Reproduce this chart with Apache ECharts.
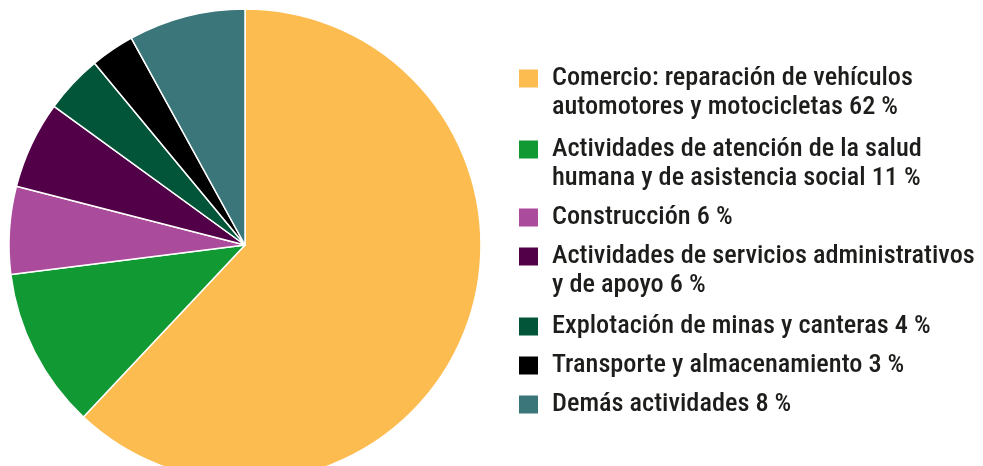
<!DOCTYPE html>
<html>
<head>
<meta charset="utf-8">
<script src="https://cdn.jsdelivr.net/npm/echarts@6/dist/echarts.min.js"></script>
<style>
  html, body { margin: 0; padding: 0; background: #fff; }
  #chart { width: 983px; height: 466px; }
</style>
</head>
<body>
<div id="chart"></div>
<script>
// sectores y participación (%)
const categories = [
  'Comercio: reparación de vehículos\nautomotores y motocicletas',
  'Actividades de atención de la salud\nhumana y de asistencia social',
  'Construcción',
  'Actividades de servicios administrativos\ny de apoyo',
  'Explotación de minas y canteras',
  'Transporte y almacenamiento',
  'Demás actividades'
];
const values = [62, 11, 6, 6, 4, 3, 8];
const colors = ['#FDBC4F', '#119A33', '#AB4B9B', '#520048', '#03553A', '#000000', '#3A767A'];

const names = categories.map((c, i) => c + ' ' + values[i] + ' %');

// centro vertical del cuadro de color de cada entrada
const legendCenters = [80, 151, 219, 258, 328, 367, 406];

const chart = echarts.init(document.getElementById('chart'));

// una leyenda por entrada, así el cuadro queda a la altura de la primera línea
const legends = names.map((n, i) => {
  const twoLines = n.indexOf('\n') >= 0;
  return {
    orient: 'vertical',
    left: 517,
    top: legendCenters[i] - (twoLines ? 43.5 : 14.5),
    padding: 0,
    itemWidth: 21,
    itemHeight: 20,
    selectedMode: false,
    icon: 'rect',
    data: [n],
    formatter: function (name) {
      const lines = name.split('\n');
      if (lines.length > 1) lines.unshift(' ');
      return lines.map(l => '{t|' + l + '}').join('\n');
    },
    textStyle: {
      rich: {
        t: {
          fontFamily: 'Roboto Condensed',
          fontSize: 26.3,
          fontWeight: 500,
          lineHeight: 29,
          color: '#1d1d1b',
          padding: [0, 0, 0, 8]
        }
      }
    }
  };
});

chart.setOption({
  animation: false,
  color: colors,
  legend: legends,
  series: [{
    type: 'pie',
    center: [245, 245],
    radius: 236,
    startAngle: 90,
    clockwise: true,
    label: { show: false },
    labelLine: { show: false },
    itemStyle: { borderColor: '#ffffff', borderWidth: 1.5 },
    emphasis: { disabled: true },
    data: names.map((n, i) => ({ name: n, value: values[i] }))
  }]
});
</script>
</body>
</html>
